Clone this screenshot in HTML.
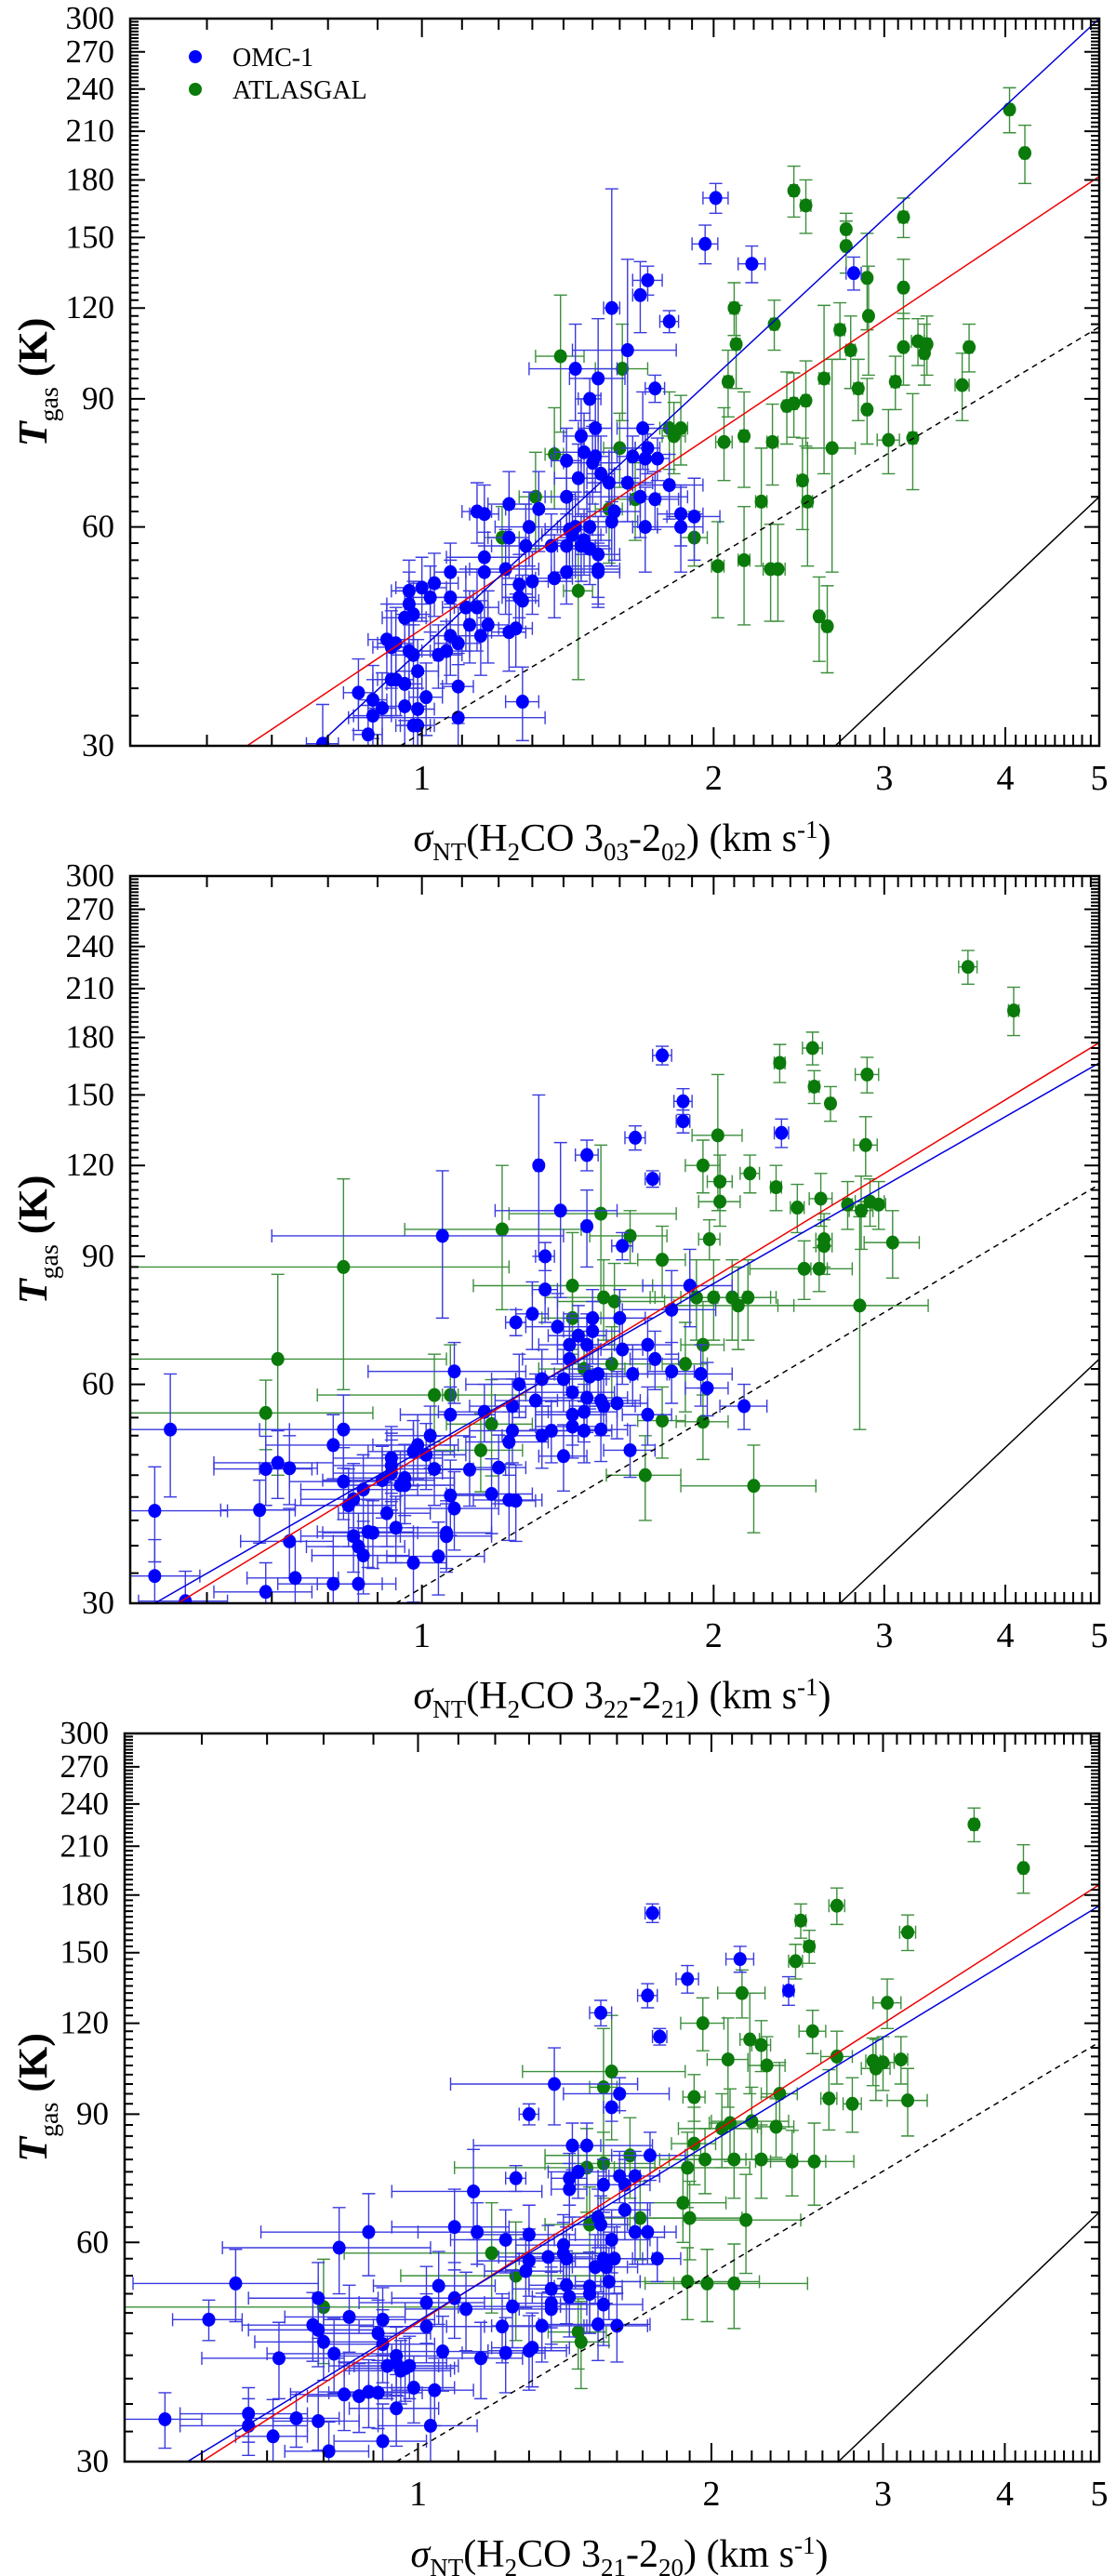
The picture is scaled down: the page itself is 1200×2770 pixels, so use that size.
<!DOCTYPE html>
<html><head><meta charset="utf-8">
<style>
html,body{margin:0;padding:0;background:#fff;}
svg{display:block;}
svg text{font-family:"Liberation Serif","DejaVu Serif",serif;}
</style></head>
<body>
<svg id="fig" width="1200" height="2770" viewBox="0 0 1200 2770" xmlns="http://www.w3.org/2000/svg" font-family="Liberation Serif, DejaVu Serif, serif"></svg>
<script>
// ---------- data ----------
const xTickLabels = [1,2,3,4,5];
const yTickLabels = [30,60,90,120,150,180,210,240,270,300];
const seriesNames = ["OMC-1","ATLASGAL"];
const xTitles = [["03","02"],["22","21"],["21","20"]];

// [sigma, T, errSigma, errT]
const p1Blue = [[2.01,170,.06,8],[1.96,147,.06,9],[2.19,138,.07,8],[2.79,134,.05,7],[1.71,131,.06,6],[1.68,125,.03,14],[1.57,120,.03,55],[1.80,115,.04,4],[1.63,105,.2,35],[1.44,99,.15,15],[1.52,96,.1,20],[1.74,93,.04,4],[1.49,90,.04,6],[1.69,82,.1,10],[1.51,82,.06,9],[1.46,80,.06,10],[1.71,77,.05,6],[1.47,76,.1,10],[1.51,75,.05,8],[1.65,75,.06,5],[1.70,74.5,.05,6],[1.75,74.5,.05,5],[1.50,73.5,.1,9],[1.53,71,.05,9],[1.45,70,.08,8],[1.63,69,.1,8],[1.56,69,.08,7],[1.68,66,.2,8],[1.58,63,.1,9],[1.80,68.5,.15,7],[1.74,65.5,.1,6],[1.85,62.5,.1,6],[1.41,74,.05,8],[1.41,66,.07,8],[1.23,64.5,.06,7],[1.14,63,.04,6],[1.16,62.5,.04,6],[1.32,63.5,.1,8],[1.29,60,.1,7],[1.23,58,.06,7],[1.28,56.5,.1,8],[1.42,59.5,.08,7],[1.43,58.5,.1,7],[1.47,57.5,.1,6],[1.36,56.5,.1,6],[1.41,56.5,.1,6],[1.46,56.5,.1,6],[1.49,56,.08,6],[1.52,55,.08,7],[1.49,60,.06,7],[1.44,60,.06,7],[1.91,62,.12,8],[1.85,60,.1,8],[1.70,60,.05,8],[1.57,61,.1,8],[1.16,54.5,.1,8],[1.22,52.5,.1,7],[1.16,52,.05,7],[1.41,52,.05,5],[1.37,51,.06,6],[1.52,52.5,.08,6],[1.52,52,.08,5],[1.07,52,.04,5],[1.26,50,.05,5],[1.30,50.5,.05,5],[1.26,48,.05,5],[1.27,47.5,.05,4],[1.03,50.2,.06,5],[1.00,49.5,.06,5],[.97,49,.04,5],[1.07,48,.06,6],[1.02,48,.05,5],[.97,47,.05,5],[.98,45.5,.04,5],[.96,45,.05,4],[1.11,46.5,.06,6],[1.14,46.5,.06,6],[1.12,44,.06,5],[1.15,42.5,.08,5],[1.17,44,.06,5],[1.23,43,.05,5],[1.25,43.5,.05,5],[1.07,42.5,.05,5],[1.09,41.5,.06,5],[1.04,40,.06,4],[1.06,40.5,.06,4],[.92,42,.04,5],[.94,41.5,.04,5],[.93,41,.04,5],[.98,40,.05,4],[.99,38,.05,4],[.97,40.5,.05,4],[.94,37,.04,4],[.93,37,.04,4],[.96,36.5,.04,4],[1.09,36.2,.04,4],[.86,35.5,.03,4],[.89,34.7,.03,4],[.91,33.8,.03,4],[.89,33,.04,4],[.96,34,.05,4],[1.01,35,.04,4],[.99,33.7,.04,4],[.98,32,.04,4],[.99,32,.04,4],[1.09,32.8,.25,6],[1.27,34.5,.05,4],[.88,31.1,.03,3],[.79,30.2,.03,4]];
const p1Green = [[4.04,225,.03,16],[4.19,196,.03,18],[2.42,174,.02,14],[2.49,166,.03,14],[2.74,154,.02,8],[2.74,146,.02,12],[3.14,160,.03,10],[2.88,132,.02,20],[3.14,128,.02,12],[2.10,120,.02,10],[2.89,117,.02,20],[2.31,114,.02,9],[2.70,112,.03,10],[2.11,107,.02,14],[2.77,105,.03,12],[3.14,106,.02,12],[3.25,108,.05,8],[3.30,104,.03,10],[3.32,107,.03,10],[3.67,106,.03,8],[1.39,103,.08,22],[1.61,99,.1,15],[2.07,95,.02,10],[2.60,96,.03,25],[3.08,95,.03,8],[3.61,94,.06,10],[2.82,93,.03,9],[2.38,88,.02,10],[2.42,88.7,.02,9],[2.49,89.5,.02,12],[2.88,87,.02,9],[1.80,82,.04,10],[1.85,82,.03,9],[1.82,80,.05,9],[2.05,78.5,.04,9],[2.15,80,.02,12],[2.30,78.5,.03,10],[3.03,79,.08,8],[3.21,79.5,.03,12],[2.65,77,.15,25],[1.60,77,.06,9],[1.37,75.5,.03,12],[2.47,69.5,.03,10],[1.31,66,.05,10],[1.66,65.5,.1,8],[1.56,63.5,.05,10],[2.24,65,.03,12],[2.50,65,.03,12],[1.21,58,.05,6],[1.91,58,.06,5],[2.02,53,.03,8],[2.15,54,.03,10],[2.29,52.5,.04,8],[2.33,52.5,.04,8],[1.45,49,.05,12],[2.57,45.2,.02,6],[2.62,43.8,.02,6]];

const p2Blue = [[1.77,170,.04,5],[1.86,147,.04,6],[1.86,138,.03,5],[1.66,131,.04,5],[1.48,124,.04,6],[2.35,133,.04,6],[1.73,115,.03,3],[1.32,120,.01,30],[1.39,104,.2,25],[1.48,99,.01,12],[1.05,96,.35,22],[1.61,93,.04,4],[1.34,90,.03,4],[1.34,81,.04,8],[1.89,82,.2,10],[1.81,76,.2,10],[1.30,75,.05,8],[1.25,73,.03,3],[1.38,72,.1,8],[1.45,70,.1,7],[1.50,74,.1,7],[1.60,74,.1,7],[1.50,71,.1,7],[1.42,68,.1,7],[1.48,68,.1,7],[1.61,67,.08,7],[1.71,68,.1,6],[1.74,65,.1,6],[1.42,65,.15,7],[1.81,62.5,.1,6],[1.94,62,.15,6],[1.65,62,.15,6],[1.52,62,.15,6],[1.49,61.5,.15,6],[1.40,61,.15,6],[1.33,61,.15,6],[1.26,60,.15,6],[1.08,62.5,.2,6],[1.97,59.3,.1,5],[1.43,58.5,.15,6],[1.48,57.5,.15,6],[1.53,57,.15,6],[1.59,56.5,.12,6],[1.31,57,.12,5],[1.24,56,.12,5],[1.16,55,.12,5],[1.43,54.5,.12,5],[1.54,56,.12,5],[1.47,55,.12,5],[2.15,56,.12,4],[1.71,54.5,.1,5],[1.07,54.5,.12,5],[.83,52,.15,6],[.55,52,.18,10],[1.24,51.8,.12,5],[1.43,52.5,.12,5],[1.53,52,.1,5],[1.47,51.8,.1,5],[1.36,51.8,.12,5],[1.33,51,.12,5],[1.23,50,.12,5],[1.02,51,.1,5],[.99,49.5,.1,5],[.98,48.5,.1,5],[1.01,48,.1,5],[.81,49.5,.12,5],[.93,47.5,.12,5],[1.64,48.7,.1,4],[1.40,47.8,.08,5],[.71,46.8,.1,5],[.69,45.9,.08,5],[.73,46,.05,5],[1.03,45.9,.1,5],[1.12,45.8,.1,5],[1.20,46.1,.08,5],[.93,46.4,.12,5],[.93,45.3,.12,5],[.96,44.6,.12,5],[.95,43.6,.12,5],[.91,44.3,.12,5],[.83,44.1,.1,5],[.87,43,.12,5],[.96,43.6,.12,5],[.85,41.7,.1,5],[.84,40.9,.1,5],[1.07,42.2,.12,5],[1.18,42.4,.12,5],[1.23,41.6,.1,5],[1.25,41.5,.06,5],[1.08,40.5,.12,5],[.92,39.9,.1,4],[.68,40.3,.06,4],[.53,40.2,.1,6],[.94,38.1,.1,4],[.88,37.6,.1,4],[.89,37.5,.1,4],[.85,37.1,.1,4],[1.06,37.5,.12,4],[1.06,37.1,.12,4],[.86,35.9,.1,4],[.87,34.9,.1,4],[1.04,34.8,.12,4],[.98,34.1,.08,4],[.73,36.5,.08,4],[.53,32.7,.06,4],[.74,32.5,.08,4],[.81,31.9,.1,4],[.86,31.9,.08,4],[.69,31.1,.08,3],[.57,30.2,.06,3]];
const p2Green = [[3.66,225,.08,12],[4.08,196,.05,15],[2.53,174,.06,9],[2.34,166,.03,10],[2.54,154,.03,8],[2.64,146,.02,8],[2.88,160,.08,9],[2.87,128,.08,12],[2.02,132,.12,28],[1.95,120,.08,10],[2.03,114,.06,10],[2.18,117,.05,7],[2.32,112,.03,8],[2.03,107,.1,8],[2.44,105,.04,8],[2.58,108,.07,9],[2.75,106,.03,8],[2.84,104,.08,12],[2.90,107,.1,8],[2.96,106,.05,8],[1.53,103,.3,25],[1.21,98,.25,22],[1.64,96,.15,8],[2.60,95,.05,8],[2.60,93,.05,8],[1.98,95,.05,6],[3.06,94,.2,10],[.83,87,.4,28],[1.77,89,.1,10],[2.48,86.5,.3,8],[2.57,86.5,.05,6],[1.43,82,.3,15],[1.54,79,.2,10],[1.58,78,.2,10],[1.92,79,.2,10],[2.00,79,.15,10],[2.09,79,.2,10],[2.17,79,.15,10],[2.12,77,.3,10],[2.83,77,.5,25],[1.43,74,.1,8],[.71,65,.35,20],[1.95,68,.1,10],[1.87,64,.1,9],[1.57,64,.15,8],[1.47,63,.15,8],[1.03,58,.25,8],[1.07,58,.02,10],[.69,54.8,.2,6],[1.18,52.9,.12,8],[1.77,53.5,.1,6],[1.95,53.3,.12,6],[1.15,48.7,.12,6],[1.70,45,.15,6],[2.20,43.5,.35,6]];

const p3Blue = [[1.74,170,.03,5],[2.14,147,.07,6],[1.89,138,.05,6],[1.72,131,.04,5],[1.54,124,.04,5],[2.40,133,.03,6],[1.77,115,.03,3],[1.38,99,.3,12],[1.61,96,.2,5],[1.58,92,.03,4],[1.30,90,.03,3],[1.44,81.5,.3,6],[1.49,81.5,.05,6],[1.73,79,.15,6],[1.46,75,.1,6],[1.43,73.5,.06,6],[1.43,71,.06,6],[1.55,72,.1,6],[1.63,66.5,.1,6],[1.61,74,.08,6],[1.26,73.5,.03,3],[1.14,70.5,.2,10],[1.67,74,.1,6],[1.63,72,.1,6],[1.53,65,.1,6],[1.54,63.5,.1,6],[1.67,62,.12,6],[1.72,62,.12,6],[1.30,61.5,.15,6],[1.23,60.5,.15,6],[1.09,63,.15,8],[1.15,62,.15,6],[.89,62,.2,8],[1.58,60.5,.15,6],[1.41,59.5,.15,6],[1.41,57.9,.15,6],[1.42,57,.15,6],[1.36,57.3,.15,6],[1.30,56.6,.15,6],[1.55,57,.15,6],[1.59,57,.15,6],[1.52,55.5,.12,6],[1.56,55.5,.12,6],[1.76,57,.1,4],[.83,59,.2,8],[1.29,54.8,.12,6],[.65,52.7,.14,6],[1.37,51.8,.12,6],[1.42,52.4,.12,6],[1.50,52.2,.12,6],[1.57,53,.12,6],[1.43,50.5,.12,6],[1.37,49.5,.12,6],[1.37,48.6,.12,6],[1.50,51,.12,6],[1.05,52.3,.15,6],[1.09,50.3,.15,6],[1.02,49.6,.15,6],[1.12,48.6,.15,6],[1.25,49,.15,6],[1.55,49.3,.15,6],[.79,50.3,.12,6],[.61,47,.05,3],[.78,46.2,.12,5],[.79,45.5,.12,5],[.85,47.4,.12,5],[.92,47,.12,5],[.91,45,.12,5],[.80,43.8,.12,5],[1.02,46,.15,5],[1.22,46,.15,5],[1.34,46.1,.15,5],[1.53,46.3,.2,5],[1.60,46.1,.12,5],[.72,41.6,.12,5],[.82,42.2,.12,5],[.92,43.5,.12,5],[1.06,42.5,.12,5],[1.16,41.6,.12,5],[1.23,42.3,.12,5],[1.30,42.6,.12,5],[1.31,43,.12,5],[.95,41.9,.12,4],[.93,40.6,.12,4],[.96,40,.12,4],[.95,41,.12,4],[.98,40.6,.12,4],[.97,40.3,.12,4],[.99,37.9,.1,4],[1.04,37.6,.1,4],[.89,37.4,.1,4],[.91,37.3,.1,4],[.87,36.9,.1,4],[.84,37.1,.1,4],[.95,35.5,.1,4],[.55,34.3,.05,3],[.67,34.9,.1,3],[.67,33.6,.1,3],[.75,34.4,.08,3],[.79,34.1,.08,3],[1.03,33.6,.12,4],[.71,32.5,.06,4],[.92,32,.1,4],[.81,31,.08,3]];
const p3Green = [[3.72,225,.03,12],[4.18,196,.03,15],[2.69,174,.05,10],[2.47,166,.03,9],[2.52,153,.03,8],[2.44,146,.04,8],[3.18,160,.06,9],[3.03,128,.1,10],[2.15,132,.12,10],[1.96,120,.1,10],[2.19,114,.05,18],[2.25,112,.05,9],[2.54,117,.08,8],[2.08,107,.1,15],[2.28,105,.1,10],[2.69,108,.1,9],[2.93,106.5,.05,8],[2.95,104,.1,10],[3.00,106,.08,9],[3.13,107,.05,8],[1.58,103,.3,20],[1.55,98,.05,20],[1.92,95,.05,7],[2.35,96,.1,10],[2.64,94.6,.05,9],[2.79,93,.06,8],[3.18,94,.15,10],[2.09,87.5,.1,10],[2.05,86,.2,10],[2.20,88,.2,10],[2.33,86.5,.1,8],[1.92,82,.1,10],[1.65,79,.3,10],[1.55,77,.2,8],[1.49,76,.4,10],[1.97,78,.2,8],[2.11,78,.3,9],[2.25,78,.2,9],[2.42,77.5,.2,8],[2.55,77.5,.25,10],[1.89,76,.3,9],[1.87,68,.2,8],[1.69,64.8,.2,8],[1.90,64.8,.25,8],[2.17,64.4,.3,10],[1.50,63.5,.15,8],[1.19,58,.35,10],[.80,48.9,.3,8],[1.26,54,.3,10],[1.89,53,.35,6],[1.98,52.7,.15,6],[2.11,52.7,.4,7],[1.46,45.2,.1,5],[1.47,43.8,.1,6]];

// fit lines [sigma0, T0, sigma1, T1]
const p1Fits = {blue:[0.78,30,5,300], red:[0.66,30,5,182], dash:[0.95,30,5,113], solid:[2.67,30,5,66]};
const p2Fits = {blue:[0.53,30,5,166], red:[0.56,30,5,177], dash:[0.94,30,5,113], solid:[2.7,30,5,65]};
const p3Fits = {blue:[0.58,30,5,174], red:[0.60,30,5,186], dash:[0.95,30,5,113], solid:[2.7,30,5,66]};

// ---------- drawing ----------
const NS = "http://www.w3.org/2000/svg";
const FONT = "Liberation Serif, DejaVu Serif, serif";
const svg = document.getElementById("fig");
function mk(tag, attrs, parent){
  const e = document.createElementNS(NS, tag);
  for (const k in attrs) e.setAttribute(k, attrs[k]);
  if (tag === "text") e.setAttribute("font-family", FONT);
  (parent||svg).appendChild(e);
  return e;
}
const X0 = 0.5, X1 = 5, Y0 = 30, Y1 = 300;

function panel(idx, L, R, T, B, blue, green, fits){
  const g = mk("g", {});
  
  
  const sx = v => L + (Math.log10(v) - Math.log10(X0)) / (Math.log10(X1) - Math.log10(X0)) * (R - L);
  const sy = v => B - (Math.log10(v) - Math.log10(Y0)) / (Math.log10(Y1) - Math.log10(Y0)) * (B - T);
  const clipId = "clip" + idx;
  const cp = mk("clipPath", {id: clipId}, g);
  mk("rect", {x:L, y:T, width:R-L, height:B-T}, cp);
  const plot = mk("g", {"clip-path":"url(#"+clipId+")"}, g);

  function seriesDraw(data, dot, bar, name){
    const sg = mk("g", {}, plot);
    
    
    data.forEach(d => {
      const cx = sx(d[0]), cy = sy(d[1]);
      const xa = sx(Math.max(d[0]-d[2], 0.3)), xb = sx(d[0]+d[2]);
      const ya = sy(Math.max(d[1]-d[3], 20)), yb = sy(d[1]+d[3]);
      const eb = mk("path", {d:`M${xa},${cy}H${xb}M${xa},${cy-7}V${cy+7}M${xb},${cy-7}V${cy+7}M${cx},${ya}V${yb}M${cx-7},${ya}H${cx+7}M${cx-7},${yb}H${cx+7}`, stroke:bar, "stroke-width":1.4, fill:"none"}, sg);
      
      
    });
    data.forEach(d => {
      const c = mk("ellipse", {cx:sx(d[0]), cy:sy(d[1]), rx:7, ry:7.5, fill:dot}, sg);
      
      
    });
  }
  seriesDraw(green, "#0a7a0a", "#3c8f3c", "atlasgal");
  seriesDraw(blue, "#0000ff", "#3a3ae0", "omc1");

  const lineDefs = [["dash","#000","6,5","theory-dashed-line"],["solid","#000","","theory-solid-line"],["red","#ee0000","","omc1-atlasgal-fit-red"],["blue","#0000dd","","omc1-fit-blue"]];
  lineDefs.forEach(ld => {
    const f = fits[ld[0]];
    const ln = mk("line", {x1:sx(f[0]), y1:sy(f[1]), x2:sx(f[2]), y2:sy(f[3]), stroke:ld[1], "stroke-width":1.5, "stroke-dasharray":ld[2]}, plot);
    
    
  });

  const fr = mk("rect", {x:L, y:T, width:R-L, height:B-T, fill:"none", stroke:"#000", "stroke-width":2.5}, g);
  
  

  let tp = "";
  for (let v = 0.6; v <= 5.001; v += 0.1) {
    const vv = Math.round(v*10)/10;
    const major = Math.abs(vv - Math.round(vv)) < 1e-6;
    const len = major ? 20 : 12;
    const x = sx(vv);
    tp += `M${x},${B}V${B-len}M${x},${T}V${T+len}`;
  }
  for (let v = 33; v < 300; v += 3) {
    const major = v % 30 === 0;
    const len = major ? 16 : 9;
    const y = sy(v);
    tp += `M${L},${y}H${L+len}M${R},${y}H${R-len}`;
  }
  const ticks = mk("path", {d:tp, stroke:"#000", "stroke-width":2, fill:"none"}, g);
  
  

  xTickLabels.forEach(v => {
    const t = mk("text", {x:sx(v), y:B+47, "font-size":38, "text-anchor":"middle"}, g);
    t.textContent = v;
    
    
  });
  yTickLabels.forEach(v => {
    const t = mk("text", {x:L-17, y:sy(v)+11, "font-size":35, "text-anchor":"end"}, g);
    t.textContent = v;
    
    
  });

  const sub = xTitles[idx];
  const xt = mk("text", {x:(L+R)/2+8, y:B+113, "font-size":42, "text-anchor":"middle"}, g);
  
  
  xt.innerHTML = `<tspan font-style="italic">σ</tspan><tspan font-size="27" dy="10">NT</tspan><tspan dy="-10">(H</tspan><tspan font-size="27" dy="10">2</tspan><tspan dy="-10">CO 3</tspan><tspan font-size="27" dy="10">${sub[0]}</tspan><tspan dy="-10">-2</tspan><tspan font-size="27" dy="10">${sub[1]}</tspan><tspan dy="-10">) (km s</tspan><tspan font-size="27" dy="-14">-1</tspan><tspan dy="14">)</tspan>`;

  const cyT = (T+B)/2;
  const yt = mk("text", {x:0, y:0, "font-size":44, "font-weight":"bold", "text-anchor":"middle", transform:`translate(50,${cyT}) rotate(-90)`}, g);
  
  
  yt.innerHTML = `<tspan font-style="italic">T</tspan><tspan font-size="28" font-weight="normal" dy="12">gas</tspan><tspan dy="-12"> (K)</tspan>`;

  if (idx === 0) {
    const lg = mk("g", {}, g);
    
    
    const cols = ["#0000ff", "#0a7a0a"];
    seriesNames.forEach((n, i) => {
      const yy = 61 + i*35;
      const d = mk("circle", {cx:210, cy:yy, r:7, fill:cols[i]}, lg);
      
      
      const t = mk("text", {x:250, y:yy+10, "font-size":28}, lg);
      t.textContent = n;
      
      
    });
  }
}

panel(0, 140, 1182, 20, 802, p1Blue, p1Green, p1Fits);
panel(1, 140, 1182, 942, 1724, p2Blue, p2Green, p2Fits);
panel(2, 134, 1182, 1864, 2647, p3Blue, p3Green, p3Fits);
</script>
</body></html>
